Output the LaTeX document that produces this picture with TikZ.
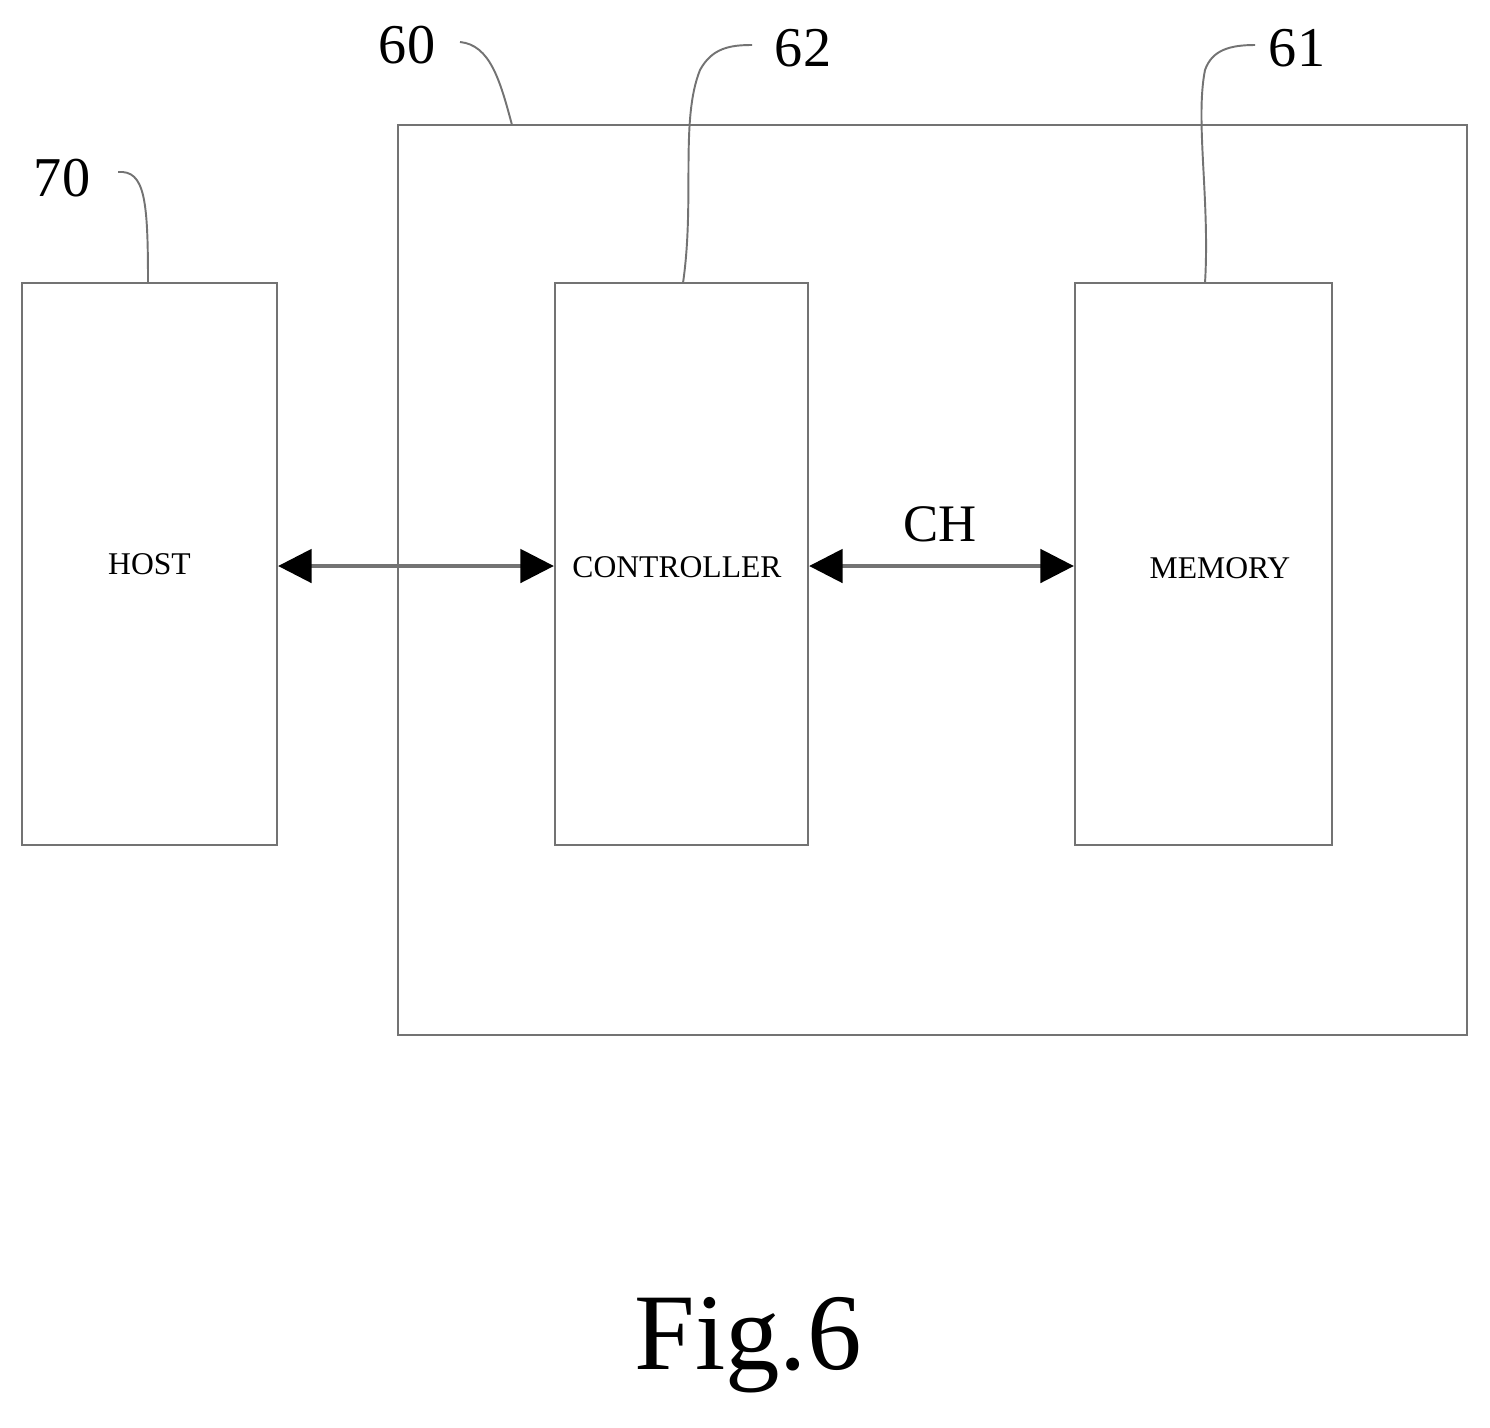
\documentclass[tikz,border=0pt]{standalone}
\usepackage{fontspec}
\setmainfont{Liberation Serif}
\usetikzlibrary{arrows.meta}
\begin{document}
\begin{tikzpicture}[x=0.02cm,y=-0.02cm,
  box/.style={draw=black!55,line width=1.3pt,inner sep=0pt},
  lead/.style={draw=black!55,line width=1.1pt},
  num/.style={font=\fontsize{32}{34}\selectfont},
  conn/.style={draw=black!55,line width=2pt,{Triangle[length=19pt,width=19pt,fill=black,color=black]}-{Triangle[length=19pt,width=19pt,fill=black,color=black]}}]
\useasboundingbox (0,0) rectangle (1490,1427);
\node[box,minimum width=1069*0.02cm,minimum height=910*0.02cm] (dev) at (932.5,580) {};
\node[box,minimum width=255*0.02cm,minimum height=562*0.02cm,font=\fontsize{18}{20}\selectfont] (host) at (149.5,564) {HOST};
\node[box,minimum width=253*0.02cm,minimum height=562*0.02cm,font=\fontsize{18}{20}\selectfont] (ctrl) at (681.5,564) {};
\node[font=\fontsize{18}{20}\selectfont] (ctrlt) at (677,567) {CONTROLLER};
\node[box,minimum width=257*0.02cm,minimum height=562*0.02cm,font=\fontsize{18}{20}\selectfont] (mem) at (1203.5,564) {};
\node[font=\fontsize{18}{20}\selectfont] (memt) at (1220,568) {MEMORY};
\draw[conn] (host.east |- 0,566) -- (ctrl.west |- 0,566);
\draw[conn] (ctrl.east |- 0,566) -- (mem.west |- 0,566);
\node[font=\fontsize{30}{32}\selectfont] (ch) at (940,524) {CH};
\node[num] (n70) at (62,178) {70};
\node[num] (n60) at (407,45) {60};
\node[num] (n62) at (803,48) {62};
\node[num] (n61) at (1297,48) {61};
\coordinate (a70) at (148,283);
\coordinate (a60) at (512,125);
\coordinate (a62) at (683,283);
\coordinate (a61) at (1205,283);
\draw[lead] (a70) .. controls (148,200) and (145,170) .. (118,172);
\draw[lead] (a60) .. controls (500,80) and (490,45) .. (460,42);
\draw[lead] (a62) .. controls (695,200) and (680,120) .. (700,70) .. controls (712,48) and (730,45) .. (752,45);
\draw[lead] (a61) .. controls (1210,200) and (1195,120) .. (1205,70) .. controls (1212,50) and (1230,45) .. (1255,45);
\node[font=\fontsize{62}{64}\selectfont] (fig) at (748,1345) {Fig.6};
\end{tikzpicture}
\end{document}
